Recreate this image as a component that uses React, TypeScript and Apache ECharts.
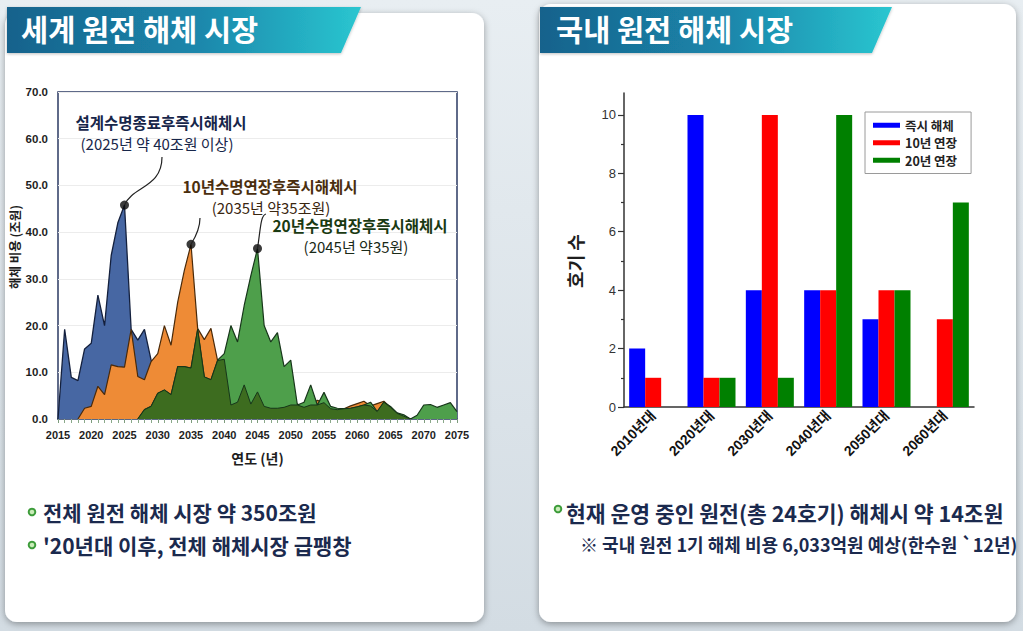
import React, { useEffect, useRef } from "react";
import * as echarts from "echarts";

// ---------- Left chart data (세계 원전 해체 시장, 조원) ----------
const years = [
  2015, 2016, 2017, 2018, 2019, 2020, 2021, 2022, 2023, 2024,
  2025, 2026, 2027, 2028, 2029, 2030, 2031, 2032, 2033, 2034,
  2035, 2036, 2037, 2038, 2039, 2040, 2041, 2042, 2043, 2044,
  2045, 2046, 2047, 2048, 2049, 2050, 2051, 2052, 2053, 2054,
  2055, 2056, 2057, 2058, 2059, 2060, 2061, 2062, 2063, 2064,
  2065, 2066, 2067, 2068, 2069, 2070, 2071, 2072, 2073, 2074,
  2075,
];
const N = null;
const costDesignLife = [
  0, 19.2, 8.9, 8.2, 15.0, 16.2, 26.5, 20.0, 35.0, 42.0,
  45.8, 19.2, 16.9, 19.2, 12.6, 11.0, 3.0, 3.6, 7.3, 3.0,
  5.7, 2.7, 2.3, 2.3, 2.5, 3.0, 3.6, 1.6, 3.6, 2.7,
  1.3, 0.9, 0, N, N, N, N, N, N, N,
  N, N, N, N, N, N, N, N, N, N,
  N, N, N, N, N, N, N, N, N, N,
  N,
];
const cost10yExt = [
  N, N, N, 0, 2.3, 2.7, 7.0, 5.2, 11.6, 11.2,
  11.1, 19.2, 9.1, 8.4, 12.3, 14.0, 20.0, 15.8, 25.0, 31.8,
  37.4, 19.4, 17.0, 19.4, 12.5, 12.8, 3.0, 3.6, 7.3, 3.2,
  5.8, 2.7, 2.3, 2.3, 2.5, 3.0, 3.2, 2.5, 3.0, 4.0,
  3.5, 2.2, 2.0, 2.2, 2.8, 3.3, 3.8, 2.8, 3.3, 3.8,
  2.5, 1.2, 0.6, 0, N, N, N, N, N, N,
  N,
];
const cost20yExt = [
  N, N, N, N, N, N, N, N, N, N,
  N, N, 0, 2.0, 2.7, 5.5, 6.2, 5.2, 11.2, 11.2,
  10.9, 19.2, 9.0, 8.4, 12.6, 14.0, 20.0, 16.5, 24.3, 30.7,
  36.5, 20.0, 16.5, 18.5, 11.2, 12.6, 3.0, 3.6, 7.3, 3.0,
  5.7, 2.7, 2.3, 2.2, 2.3, 2.6, 3.0, 3.6, 1.6, 3.6,
  2.7, 1.3, 0.9, 0, 0.8, 3.0, 3.1, 2.5, 3.0, 3.5,
  1.6,
];
const yTicksLeft = [0, 10, 20, 30, 40, 50, 60, 70];

// ---------- Right chart data (국내 원전 해체 시장, 호기 수) ----------
const decades = ["2010년대", "2020년대", "2030년대", "2040년대", "2050년대", "2060년대"];
const unitsImmediate = [2, 10, 4, 4, 3, 0];
const units10yExt = [1, 1, 10, 4, 4, 3];
const units20yExt = [0, 1, 1, 10, 4, 7];
const yTicksRight = [0, 2, 4, 6, 8, 10];
const yMinorRight = [1, 3, 5, 7, 9];

const KR = "'Noto Sans CJK KR', 'Noto Sans', sans-serif";
const NUM = "'Liberation Sans', 'Noto Sans CJK KR', sans-serif";

const toPairs = (arr: (number | null)[]) =>
  years.map((y, i) => [y, arr[i]]).filter((p) => p[1] !== null);

const peakOf = (arr: (number | null)[]) => {
  let bi = -1;
  arr.forEach((v, i) => {
    if (v !== null && (bi < 0 || v > (arr[bi] as number))) bi = i;
  });
  return [years[bi], arr[bi] as number];
};

const overlapOG = cost10yExt.map((v, i) => {
  const g = cost20yExt[i];
  return v === null || g === null ? null : Math.min(v, g);
});

function txt(text: string, x: number, y: number, size: number, fill: string, weight: any = "bold", align = "left", family = KR, rotation = 0): any {
  return {
    type: "text",
    x,
    y,
    z: 100,
    rotation,
    style: {
      text,
      fill,
      fontSize: size,
      fontWeight: weight,
      fontFamily: family,
      textAlign: align,
      align,
      textVerticalAlign: "middle",
      verticalAlign: "middle",
    },
  };
}

function headerBand(x0: number, x1: number, x2: number): any {
  return {
    type: "polygon",
    z: -5,
    shape: { points: [[x0, 7], [x1, 7], [x2, 53], [x0, 53]] },
    style: {
      fill: new echarts.graphic.LinearGradient(0, 0, 1, 0, [
        { offset: 0, color: "#17628c" },
        { offset: 0.55, color: "#1b88ac" },
        { offset: 1, color: "#2ac6d0" },
      ]),
      shadowBlur: 3,
      shadowColor: "rgba(0,0,0,0.25)",
      shadowOffsetY: 1,
    },
  };
}

function bullet(x: number, y: number): any {
  return {
    type: "circle",
    z: 100,
    shape: { cx: x, cy: y, r: 3.3 },
    style: { fill: "#c9ecb8", stroke: "#3d9c3a", lineWidth: 2 },
  };
}

const staticGraphics: any[] = [
  {
    type: "rect",
    z: -10,
    shape: { x: 5, y: 13, width: 479, height: 609, r: 12 },
    style: { fill: "#ffffff", shadowBlur: 7, shadowColor: "rgba(0,0,0,0.35)", shadowOffsetY: 2 },
  },
  {
    type: "rect",
    z: -10,
    shape: { x: 539, y: 4, width: 477, height: 618, r: 12 },
    style: { fill: "#ffffff", shadowBlur: 7, shadowColor: "rgba(0,0,0,0.35)", shadowOffsetY: 2 },
  },
  headerBand(7, 361, 341),
  headerBand(540, 892, 872),
  txt("세계 원전 해체 시장", 21, 28, 29.5, "#ffffff"),
  txt("국내 원전 해체 시장", 556, 28, 29.5, "#ffffff"),
  // axis titles
  txt("해체 비용 (조원)", 14, 247, 12.5, "#1e1e1e", "bold", "center", KR, Math.PI / 2),
  txt("호기 수", 575, 261, 18, "#1e1e1e", "bold", "center", KR, Math.PI / 2),
  // annotations (left chart)
  txt("설계수명종료후즉시해체시", 161, 122, 15.5, "#17264a", "bold", "center"),
  txt("(2025년 약 40조원 이상)", 157, 143, 15, "#17264a", "normal", "center"),
  txt("10년수명연장후즉시해체시", 270, 186, 15.5, "#4a2e0e", "bold", "center"),
  txt("(2035년 약35조원)", 271, 207, 15, "#3a2610", "normal", "center"),
  txt("20년수명연장후즉시해체시", 360, 224.5, 15.5, "#1a3a12", "bold", "center"),
  txt("(2045년 약35원)", 356, 246, 15, "#1a2a18", "normal", "center"),
  // bottom bullets
  bullet(32, 512),
  txt("전체 원전 해체 시장 약 350조원", 43, 512, 21, "#1b2a4e"),
  bullet(32, 545),
  txt("'20년대 이후, 전체 해체시장 급팽창", 43, 545, 21, "#1b2a4e"),
  bullet(558, 509),
  txt("현재 운영 중인 원전(총 24호기) 해체시 약 14조원", 566, 512, 21.5, "#1b2a4e"),
  txt("※ 국내 원전 1기 해체 비용 6,033억원 예상(한수원 `12년)", 580, 544, 18, "#1b2a4e"),
];

function buildOption(extra: any[]): any {
  return {
    animation: false,
    backgroundColor: new echarts.graphic.LinearGradient(0, 0, 0, 1, [
      { offset: 0, color: "#e8eef2" },
      { offset: 1, color: "#d3dce3" },
    ]),
    textStyle: { fontFamily: KR },
    graphic: [...staticGraphics, ...extra],
    legend: {
      show: true,
      orient: "vertical",
      left: 865,
      top: 112,
      itemWidth: 27,
      itemHeight: 5,
      itemGap: 5,
      padding: [7, 14, 7, 8],
      borderColor: "#9a9a9a",
      borderWidth: 1,
      backgroundColor: "#ffffff",
      textStyle: { fontSize: 12.5, fontWeight: "bold", color: "#222", fontFamily: KR },
      data: [
        { name: "즉시 해체", icon: "rect" },
        { name: "10년 연장", icon: "rect" },
        { name: "20년 연장", icon: "rect" },
      ],
    },
    grid: [
      {
        left: 58, top: 92, width: 399, height: 327,
        show: true, borderColor: "#2b3a63", borderWidth: 1.5, backgroundColor: "transparent",
      },
      { left: 624, top: 93, width: 350, height: 314 },
    ],
    xAxis: [
      {
        gridIndex: 0,
        type: "value",
        min: 2015,
        max: 2075,
        interval: 5,
        axisLine: { show: true, lineStyle: { color: "#2b3a63", width: 1.5 } },
        axisTick: { show: true, length: 4, lineStyle: { color: "#7d9c7d" } },
        minorTick: { show: true, splitNumber: 5, length: 4, lineStyle: { color: "#8aa98a" } },
        splitLine: { show: false },
        axisLabel: {
          formatter: (v: number) => String(v),
          color: "#1e1e1e",
          fontWeight: "bold",
          fontSize: 11,
          fontFamily: NUM,
          margin: 10,
        },
        name: "연도 (년)",
        nameLocation: "middle",
        nameGap: 32,
        nameTextStyle: { fontSize: 14, fontWeight: "bold", color: "#1e1e1e", fontFamily: KR },
      },
      {
        gridIndex: 1,
        type: "category",
        data: decades,
        axisLine: { show: true, lineStyle: { color: "#333", width: 1.5 } },
        axisTick: { show: false },
        axisLabel: {
          interval: 0,
          rotate: 45,
          fontSize: 14,
          fontWeight: "bold",
          color: "#111",
          fontFamily: NUM,
          margin: 6,
        },
      },
    ],
    yAxis: [
      {
        gridIndex: 0,
        type: "value",
        min: 0,
        max: 70,
        interval: 10,
        axisLine: { show: false },
        axisTick: { show: false },
        splitLine: { show: true, lineStyle: { color: "#ececec", width: 1 } },
        axisLabel: {
          formatter: (v: number) => (yTicksLeft.includes(v) ? v.toFixed(1) : ""),
          color: "#1e1e1e",
          fontWeight: "bold",
          fontSize: 11.5,
          fontFamily: NUM,
          margin: 10,
        },
      },
      {
        gridIndex: 1,
        type: "value",
        min: 0,
        max: 10.75,
        interval: 2,
        position: "left",
        axisLine: { show: true, lineStyle: { color: "#333", width: 1.5 } },
        axisTick: { show: true, length: 6, customValues: yTicksRight, lineStyle: { color: "#333", width: 1.2 } },
        splitLine: { show: false },
        axisLabel: {
          customValues: yTicksRight,
          color: "#333",
          fontSize: 13,
          fontFamily: NUM,
          margin: 8,
        },
      },
      {
        gridIndex: 1,
        type: "value",
        min: 0,
        max: 10.75,
        position: "left",
        offset: 0,
        axisLine: { show: false },
        axisTick: { show: true, length: 3, customValues: yMinorRight, lineStyle: { color: "#333", width: 1.2 } },
        axisLabel: { show: false },
        splitLine: { show: false },
      },
    ],
    series: [
      {
        name: "설계수명 종료 후 즉시 해체",
        type: "line",
        xAxisIndex: 0,
        yAxisIndex: 0,
        data: toPairs(costDesignLife),
        symbol: "none",
        lineStyle: { color: "#14203d", width: 1.3 },
        areaStyle: { color: "#4767a3", opacity: 1 },
        z: 2,
      },
      {
        name: "10년 수명연장 후 즉시 해체",
        type: "line",
        xAxisIndex: 0,
        yAxisIndex: 0,
        data: toPairs(cost10yExt),
        symbol: "none",
        lineStyle: { color: "#4a2a0a", width: 1.2 },
        areaStyle: { color: "#ee8b36", opacity: 1 },
        z: 3,
      },
      {
        name: "20년 수명연장 후 즉시 해체",
        type: "line",
        xAxisIndex: 0,
        yAxisIndex: 0,
        data: toPairs(cost20yExt),
        symbol: "none",
        lineStyle: { color: "#17361a", width: 1.2 },
        areaStyle: { color: "#4e9f4b", opacity: 1 },
        z: 4,
      },
      {
        name: "overlap",
        type: "line",
        xAxisIndex: 0,
        yAxisIndex: 0,
        data: toPairs(overlapOG),
        symbol: "none",
        lineStyle: { color: "#17361a", width: 1 },
        areaStyle: { color: "#3d6c1f", opacity: 1 },
        z: 5,
      },
      {
        name: "peaks",
        type: "scatter",
        xAxisIndex: 0,
        yAxisIndex: 0,
        data: [peakOf(costDesignLife), peakOf(cost10yExt), peakOf(cost20yExt)],
        symbol: "circle",
        symbolSize: 9,
        itemStyle: { color: "#0a0a0a" },
        z: 10,
      },
      {
        name: "즉시 해체",
        type: "bar",
        xAxisIndex: 1,
        yAxisIndex: 1,
        data: unitsImmediate,
        barWidth: 16,
        barGap: "0%",
        itemStyle: { color: "#0000ff" },
      },
      {
        name: "10년 연장",
        type: "bar",
        xAxisIndex: 1,
        yAxisIndex: 1,
        data: units10yExt,
        barWidth: 16,
        barGap: "0%",
        itemStyle: { color: "#ff0000" },
      },
      {
        name: "20년 연장",
        type: "bar",
        xAxisIndex: 1,
        yAxisIndex: 1,
        data: units20yExt,
        barWidth: 16,
        barGap: "0%",
        itemStyle: { color: "#008000" },
      },
    ],
  };
}

export default function App() {
  const ref = useRef<HTMLDivElement>(null);
  useEffect(() => {
    if (!ref.current) return;
    const chart = echarts.init(ref.current, undefined, { renderer: "svg" });
    chart.setOption(buildOption([]));
    const px = (pt: number[]) => chart.convertToPixel({ gridIndex: 0 }, pt) as number[];
    const pb = px(peakOf(costDesignLife));
    const po = px(peakOf(cost10yExt));
    const pg = px(peakOf(cost20yExt));
    const lineStyle = { stroke: "#222", lineWidth: 1.2, fill: null };
    const leaders = [
      {
        type: "bezierCurve",
        z: 50,
        shape: { x1: pb[0], y1: pb[1], x2: 162, y2: 157, cpx1: pb[0] + 8, cpy1: pb[1] - 19, cpx2: 162, cpy2: 188 },
        style: lineStyle,
      },
      {
        type: "bezierCurve",
        z: 50,
        shape: { x1: po[0], y1: po[1], x2: 200, y2: 218, cpx1: po[0] + 5, cpy1: po[1] - 8, cpx2: 200, cpy2: 227 },
        style: lineStyle,
      },
      {
        type: "bezierCurve",
        z: 50,
        shape: { x1: pg[0], y1: pg[1], x2: 266, y2: 214, cpx1: pg[0] + 3, cpy1: pg[1] - 19, cpx2: pg[0] + 3, cpy2: 215 },
        style: lineStyle,
      },
    ];
    chart.setOption(buildOption(leaders), true);
    return () => chart.dispose();
  }, []);
  return (
    <div
      ref={ref}
      style={{ position: "absolute", left: 0, top: 0, width: 1023, height: 631 }}
    />
  );
}
